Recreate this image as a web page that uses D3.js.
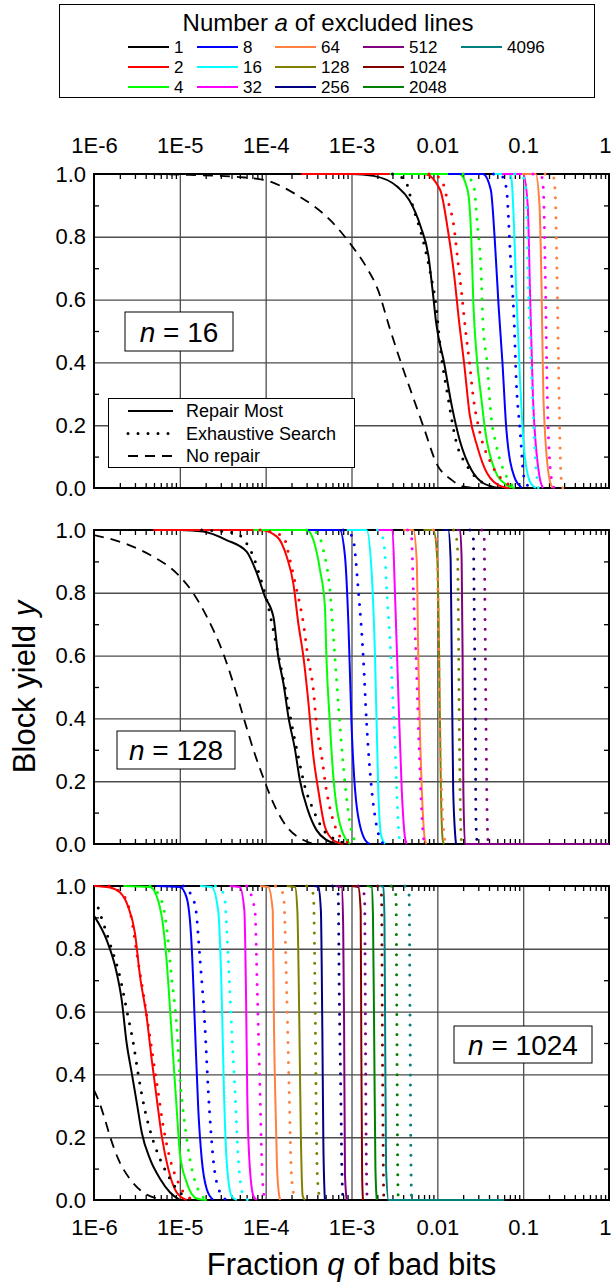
<!DOCTYPE html>
<html>
<head>
<meta charset="utf-8">
<title>Block yield vs fraction of bad bits</title>
<script src="https://d3js.org/d3.v7.min.js"></script>
<style>
body { margin: 0; padding: 0; background: #fff; }
svg text { font-family: "Liberation Sans", Arial, sans-serif; fill: #000; }
</style>
</head>
<body>
<div id="chart"></div>
<script>

// number a of excluded lines, and the colour used for each
var aValues = [1, 2, 4, 8, 16, 32, 64, 128, 256, 512, 1024, 2048, 4096];
var aColors = ["#000000", "#ff0000", "#00ff00", "#0000ff", "#00ffff", "#ff00ff", "#ff8040",
               "#808000", "#000080", "#800080", "#800000", "#008000", "#008080"];

var xTickValues = [1e-6, 1e-5, 1e-4, 1e-3, 1e-2, 1e-1, 1];
var xTickLabels = ["1E-6", "1E-5", "1E-4", "1E-3", "0.01", "0.1", "1"];
var yTickValues = [0, 0.2, 0.4, 0.6, 0.8, 1];
var yTickLabels = ["0.0", "0.2", "0.4", "0.6", "0.8", "1.0"];

// ---- n = 16 : [q, yield] points, one curve per a ----
var n16Most = [
  [[2.6e-4,1],[1e-3,1],[1.8e-3,0.994],[3.4e-3,0.96],[4.7e-3,0.917],[6.4e-3,0.832],[7.9e-3,0.737],[8.8e-3,0.63],[9.7e-3,0.525],[1.2e-2,0.398],[1.48e-2,0.259],[1.82e-2,0.153],[2.5e-2,0.057],[3.4e-2,0.016],[5.2e-2,0]],
  [[2.6e-4,1],[7.1e-3,1],[1.08e-2,0.949],[1.33e-2,0.82],[1.56e-2,0.684],[1.82e-2,0.514],[2.05e-2,0.398],[2.37e-2,0.238],[2.92e-2,0.132],[3.8e-2,0.047],[5.7e-2,0.004],[7e-2,0]],
  [[2.8e-3,1],[1.8e-2,1],[2.25e-2,0.949],[2.49e-2,0.79],[2.62e-2,0.6],[2.92e-2,0.398],[3.24e-2,0.29],[3.6e-2,0.185],[4.67e-2,0.057],[6.4e-2,0.01],[8e-2,0]],
  [[1.33e-2,1],[3.4e-2,1],[4.2e-2,0.949],[4.67e-2,0.79],[5.18e-2,0.577],[5.74e-2,0.398],[6.38e-2,0.185],[7.87e-2,0.036],[9.7e-2,0]],
  [[4.5e-2,1],[7.1e-2,1],[7.4e-2,0.97],[7.8e-2,0.843],[8.3e-2,0.63],[9.2e-2,0.344],[0.102,0.13],[0.12,0.02],[0.14,0]],
  [[5.7e-2,1],[0.1,1],[0.113,0.9],[0.12,0.63],[0.13,0.29],[0.155,0.036],[0.17,0]],
  [[9.7e-2,1],[0.14,1],[0.155,0.9],[0.164,0.63],[0.172,0.29],[0.2,0.036],[0.22,0]]
];
var n16Search = [
  [[3.0e-3,1],[4.2e-3,0.981],[5.2e-3,0.896],[6.8e-3,0.79],[8.3e-3,0.684],[9.7e-3,0.577],[1.08e-2,0.45],[1.33e-2,0.29],[1.64e-2,0.153],[2.25e-2,0.068],[3.4e-2,0.016],[5e-2,0]],
  [[8e-3,1],[1.1e-2,0.985],[1.3e-2,0.922],[1.56e-2,0.832],[1.73e-2,0.726],[1.92e-2,0.62],[2.13e-2,0.503],[2.37e-2,0.398],[2.62e-2,0.29],[3.08e-2,0.185],[4.2e-2,0.08],[6.4e-2,0.016],[8e-2,0]],
  [[2.0e-2,1],[2.62e-2,0.97],[2.92e-2,0.843],[3.24e-2,0.684],[3.4e-2,0.525],[3.8e-2,0.398],[4.2e-2,0.238],[4.9e-2,0.132],[6.4e-2,0.036],[8e-2,0]],
  [[4.5e-2,1],[5.8e-2,0.99],[6.4e-2,0.95],[7.1e-2,0.737],[7.87e-2,0.52],[8.3e-2,0.344],[9.2e-2,0.185],[0.102,0.036],[0.12,0]],
  [[8e-2,1],[0.1,0.99],[0.108,0.95],[0.114,0.68],[0.126,0.344],[0.14,0.08],[0.15,0]],
  [[0.13,1],[0.165,0.99],[0.172,0.95],[0.181,0.68],[0.191,0.29],[0.212,0.036],[0.23,0]],
  [[0.18,1],[0.225,0.99],[0.235,0.95],[0.248,0.68],[0.262,0.29],[0.276,0.036],[0.29,0]]
];
var n16NoRepair = [[3e-6,1],[1e-5,0.998],[5e-5,0.99],[1e-4,0.98],[2.25e-4,0.935],[5.8e-4,0.85],[1.03e-3,0.768],[1.48e-3,0.705],[2.04e-3,0.63],[2.78e-3,0.51],[3.78e-3,0.398],[5.2e-3,0.29],[7.1e-3,0.185],[9.7e-3,0.08],[1.48e-2,0.025],[2.03e-2,0.004],[3e-2,0]];

// ---- n = 128 ----
var n128Most = [
  [[4.9e-6,1],[1.0e-5,1],[1.87e-5,0.995],[3.5e-5,0.968],[6.0e-5,0.931],[7.9e-5,0.862],[9.8e-5,0.788],[1.23e-4,0.724],[1.4e-4,0.597],[1.61e-4,0.512],[1.84e-4,0.405],[2.2e-4,0.3],[2.5e-4,0.204],[3.1e-4,0.108],[3.9e-4,0.045],[5.1e-4,0.013],[6.7e-4,0]],
  [[4.9e-6,1],[8.6e-5,1],[1.35e-4,0.979],[1.76e-4,0.915],[2.1e-4,0.83],[2.4e-4,0.703],[2.75e-4,0.597],[3.1e-4,0.469],[3.6e-4,0.278],[4.1e-4,0.172],[4.9e-4,0.055],[6.1e-4,0.013],[8.0e-4,0]],
  [[7.2e-5,1],[3.0e-4,1],[3.6e-4,0.968],[4.3e-4,0.872],[4.9e-4,0.756],[5.1e-4,0.597],[5.6e-4,0.384],[6.1e-4,0.225],[7.3e-4,0.066],[9.6e-4,0]],
  [[3.0e-4,1],[7.3e-4,1],[8.4e-4,0.915],[9.2e-4,0.703],[1.0e-3,0.384],[1.15e-3,0.12],[1.44e-3,0.013],[1.64e-3,0]],
  [[8.8e-4,1],[1.5e-3,1],[1.72e-3,0.862],[1.88e-3,0.597],[2.05e-3,0.172],[2.2e-3,0.03],[2.45e-3,0]],
  [[2.0e-3,1],[3.0e-3,1],[3.2e-3,0.809],[3.5e-3,0.49],[3.85e-3,0.172],[4.2e-3,0.02],[4.4e-3,0]],
  [[4.0e-3,1],[5.25e-3,1],[5.75e-3,0.904],[6.0e-3,0.597],[6.6e-3,0.172],[7.2e-3,0.01],[7.5e-3,0]],
  [[6.9e-3,1],[9.0e-3,1],[1.0e-2,0.904],[1.05e-2,0.597],[1.1e-2,0.172],[1.16e-2,0.01],[1.2e-2,0]],
  [[1.17e-2,1],[1.34e-2,1],[1.43e-2,0.904],[1.47e-2,0.597],[1.53e-2,0.172],[1.65e-2,0]],
  [[1.67e-2,1],[1.84e-2,1],[1.92e-2,0.904],[1.97e-2,0.597],[2.01e-2,0.172],[2.1e-2,0],[1,0]]
];
var n128Search = [
  [[1.8e-5,1],[4.5e-5,0.99],[6.0e-5,0.957],[7.2e-5,0.915],[8.6e-5,0.851],[1.03e-4,0.777],[1.23e-4,0.68],[1.47e-4,0.576],[1.76e-4,0.469],[2.0e-4,0.384],[2.4e-4,0.278],[2.87e-4,0.182],[3.6e-4,0.108],[4.7e-4,0.045],[6.7e-4,0.013],[8.8e-4,0]],
  [[8.6e-5,1],[1.3e-4,0.99],[1.61e-4,0.979],[1.92e-4,0.904],[2.3e-4,0.809],[2.75e-4,0.703],[3.1e-4,0.597],[3.6e-4,0.49],[3.9e-4,0.384],[4.5e-4,0.278],[5.1e-4,0.172],[6.1e-4,0.076],[8.0e-4,0.013],[1.05e-3,0]],
  [[3.0e-4,1],[4.0e-4,0.99],[4.7e-4,0.936],[5.6e-4,0.809],[6.4e-4,0.597],[7.3e-4,0.384],[8.4e-4,0.193],[9.6e-4,0.066],[1.15e-3,0]],
  [[8.0e-4,1],[9.5e-4,0.99],[1.05e-3,0.968],[1.2e-3,0.809],[1.37e-3,0.597],[1.5e-3,0.384],[1.72e-3,0.172],[1.97e-3,0.055],[2.35e-3,0]],
  [[2.0e-3,1],[2.2e-3,0.99],[2.35e-3,0.968],[2.45e-3,0.926],[2.57e-3,0.809],[2.81e-3,0.65],[3.0e-3,0.49],[3.2e-3,0.331],[3.36e-3,0.172],[3.5e-3,0.066],[3.67e-3,0]],
  [[4.5e-3,1],[5.0e-3,0.979],[5.25e-3,0.809],[5.65e-3,0.597],[6.0e-3,0.384],[6.4e-3,0.172],[6.9e-3,0.02],[7.2e-3,0]],
  [[9.0e-3,1],[9.85e-3,0.968],[1.03e-2,0.703],[1.07e-2,0.384],[1.12e-2,0.172],[1.23e-2,0.01],[1.28e-2,0]],
  [[1.55e-2,1],[1.71e-2,0.958],[1.76e-2,0.703],[1.8e-2,0.384],[1.87e-2,0.066],[1.92e-2,0]],
  [[2.4e-2,1],[2.62e-2,0.979],[2.7e-2,0.703],[2.77e-2,0.384],[2.82e-2,0.066],[2.92e-2,0]],
  [[3.3e-2,1],[3.5e-2,0.99],[3.6e-2,0.703],[3.69e-2,0.384],[3.82e-2,0.066],[3.93e-2,0]]
];
var n128NoRepair = [[1.0e-6,0.984],[2.4e-6,0.955],[4.9e-6,0.915],[9.2e-6,0.862],[1.44e-5,0.798],[2.06e-5,0.724],[3.2e-5,0.607],[4.2e-5,0.512],[5.5e-5,0.405],[7.2e-5,0.3],[9.6e-5,0.204],[1.23e-4,0.13],[1.76e-4,0.055],[2.75e-4,0.013],[3.6e-4,0]];

// ---- n = 1024 ----
var n1024Most = [
  [[1.0e-6,0.905],[1.4e-6,0.829],[1.84e-6,0.723],[2.1e-6,0.638],[2.4e-6,0.5],[2.75e-6,0.405],[3.15e-6,0.31],[3.6e-6,0.215],[4.5e-6,0.13],[5.9e-6,0.067],[7.7e-6,0.024],[1.0e-5,0]],
  [[1.0e-6,1],[1.53e-6,0.995],[2.0e-6,0.98],[2.5e-6,0.934],[3.0e-6,0.85],[3.44e-6,0.712],[4.1e-6,0.585],[4.7e-6,0.448],[5.4e-6,0.32],[6.15e-6,0.204],[7.35e-6,0.098],[9.2e-6,0.024],[1.2e-5,0]],
  [[2.2e-6,1],[4.5e-6,0.997],[5.6e-6,0.953],[6.4e-6,0.871],[7.0e-6,0.765],[7.7e-6,0.606],[8.4e-6,0.448],[9.2e-6,0.289],[1.0e-5,0.151],[1.2e-5,0.056],[1.57e-5,0.005],[2.06e-5,0]],
  [[5.4e-6,1],[1.0e-5,0.997],[1.2e-5,0.963],[1.37e-5,0.815],[1.5e-5,0.553],[1.64e-5,0.289],[1.8e-5,0.13],[2.06e-5,0.034],[2.45e-5,0]],
  [[1.72e-5,1],[2.35e-5,0.997],[2.8e-5,0.921],[3.07e-5,0.659],[3.27e-5,0.342],[3.5e-5,0.13],[4.0e-5,0.013],[4.6e-5,0]],
  [[3.8e-5,1],[5.0e-5,0.997],[5.65e-5,0.921],[5.9e-5,0.659],[6.1e-5,0.342],[6.45e-5,0.13],[7.2e-5,0.013],[7.9e-5,0]],
  [[8.6e-5,1],[1.07e-4,0.997],[1.21e-4,0.921],[1.25e-4,0.553],[1.32e-4,0.236],[1.37e-4,0.077],[1.47e-4,0]],
  [[1.76e-4,1],[2.2e-4,0.997],[2.34e-4,0.921],[2.47e-4,0.553],[2.56e-4,0.236],[2.7e-4,0.013],[2.87e-4,0]],
  [[3.6e-4,1],[4.1e-4,0.997],[4.4e-4,0.921],[4.57e-4,0.553],[4.7e-4,0.183],[4.9e-4,0]],
  [[6.5e-4,1],[7.7e-4,0.997],[8.0e-4,0.871],[8.2e-4,0.553],[8.4e-4,0.077],[8.8e-4,0]],
  [[1.0e-3,1],[1.2e-3,0.997],[1.28e-3,0.92],[1.3e-3,0.5],[1.33e-3,0.08],[1.36e-3,0]],
  [[1.5e-3,1],[1.72e-3,0.997],[1.78e-3,0.9],[1.84e-3,0.5],[1.9e-3,0.1],[1.97e-3,0]],
  [[2.1e-3,1],[2.35e-3,0.997],[2.42e-3,0.9],[2.47e-3,0.5],[2.53e-3,0.1],[2.7e-3,0],[6e-2,0]]
];
var n1024Search = [
  [[1.12e-6,0.93],[1.53e-6,0.818],[2.0e-6,0.712],[2.4e-6,0.606],[2.87e-6,0.5],[3.3e-6,0.395],[3.9e-6,0.289],[4.7e-6,0.204],[5.9e-6,0.13],[7.7e-6,0.067],[1.0e-5,0.024],[1.44e-5,0]],
  [[1.5e-6,1],[2.3e-6,0.963],[2.75e-6,0.892],[3.15e-6,0.786],[3.75e-6,0.659],[4.3e-6,0.553],[4.9e-6,0.448],[5.6e-6,0.342],[6.4e-6,0.236],[7.7e-6,0.13],[9.6e-6,0.056],[1.2e-5,0.013],[1.57e-5,0]],
  [[4.5e-6,1],[6.15e-6,0.953],[7.0e-6,0.871],[8.0e-6,0.712],[9.2e-6,0.553],[1.0e-5,0.395],[1.15e-5,0.236],[1.31e-5,0.13],[1.57e-5,0.045],[2.06e-5,0]],
  [[1.1e-5,1],[1.5e-5,0.942],[1.72e-5,0.765],[1.96e-5,0.553],[2.15e-5,0.342],[2.45e-5,0.13],[2.94e-5,0.024],[3.5e-5,0]],
  [[2.6e-5,1],[3.27e-5,0.974],[3.67e-5,0.765],[4.0e-5,0.553],[4.4e-5,0.342],[4.8e-5,0.13],[5.5e-5,0.013],[6.3e-5,0]],
  [[6.0e-5,1],[7.5e-5,0.921],[8.0e-5,0.659],[8.6e-5,0.342],[9.0e-5,0.13],[9.6e-5,0.013],[1.03e-4,0]],
  [[1.3e-4,1],[1.61e-4,0.974],[1.76e-4,0.659],[1.88e-4,0.342],[2.0e-4,0.077],[2.2e-4,0]],
  [[3.0e-4,1],[3.6e-4,0.974],[3.76e-4,0.659],[3.86e-4,0.342],[4.0e-4,0.077],[4.3e-4,0]],
  [[6.0e-4,1],[7.0e-4,0.974],[7.2e-4,0.659],[7.5e-4,0.342],[7.75e-4,0.077],[8.0e-4,0]],
  [[1.2e-3,1],[1.42e-3,0.97],[1.45e-3,0.6],[1.48e-3,0.2],[1.52e-3,0.01],[1.55e-3,0]],
  [[2.0e-3,1],[2.24e-3,0.97],[2.28e-3,0.6],[2.33e-3,0.2],[2.38e-3,0.01],[2.42e-3,0]],
  [[2.9e-3,1],[3.3e-3,0.97],[3.37e-3,0.6],[3.43e-3,0.2],[3.5e-3,0.01],[3.55e-3,0]],
  [[4.2e-3,1],[4.7e-3,0.97],[4.8e-3,0.6],[4.9e-3,0.2],[5.0e-3,0.01],[5.1e-3,0]]
];
var n1024NoRepair = [[1.0e-6,0.35],[1.12e-6,0.32],[1.34e-6,0.257],[1.53e-6,0.204],[1.92e-6,0.13],[2.62e-6,0.067],[3.75e-6,0.024],[5.4e-6,0.005],[7.0e-6,0]];

var panelNames = ["16", "128", "1024"];

// ---------------- layout ----------------
var W = 611, H = 1287;
var plotLeft = 94, plotRight = 609, panelH = 314;
var panelTops = [174, 530, 886];
var nLabelBoxes = [[125, 312, 108, 39], [117, 731, 118, 38], [454, 1026, 138, 37]];
var tickFont = "22px";

var panels = [
  {name: panelNames[0], most: n16Most, search: n16Search, none: n16NoRepair},
  {name: panelNames[1], most: n128Most, search: n128Search, none: n128NoRepair},
  {name: panelNames[2], most: n1024Most, search: n1024Search, none: n1024NoRepair}
];

var svg = d3.select("#chart").append("svg")
    .attr("width", W)
    .attr("height", H)
    .style("display", "block");

var x = d3.scaleLog().domain([1e-6, 1]).range([plotLeft, plotRight]);

var minorX = [];
for (var e = -6; e < 0; e++) {
  for (var m = 2; m <= 9; m++) minorX.push(m * Math.pow(10, e));
}
var minorY = [0.1, 0.3, 0.5, 0.7, 0.9];

var gridColor = "#4d4d4d";

panels.forEach(function(p, k) {
  var top = panelTops[k], bottom = top + panelH;
  var y = d3.scaleLinear().domain([0, 1]).range([bottom, top]);
  var g = svg.append("g");

  // grid lines
  g.append("g")
    .attr("transform", "translate(0," + bottom + ")")
    .call(d3.axisBottom(x).tickValues(xTickValues.slice(1, -1)).tickSize(-panelH).tickFormat(""))
    .call(function(s) { s.select(".domain").remove(); })
    .selectAll("line").attr("stroke", gridColor).attr("stroke-width", 1.3);
  g.append("g")
    .attr("transform", "translate(" + plotLeft + ",0)")
    .call(d3.axisLeft(y).tickValues(yTickValues.slice(1, -1)).tickSize(-(plotRight - plotLeft)).tickFormat(""))
    .call(function(s) { s.select(".domain").remove(); })
    .selectAll("line").attr("stroke", gridColor).attr("stroke-width", 1.4);

  // minor ticks on all four sides, pointing in
  g.append("g")
    .attr("transform", "translate(0," + bottom + ")")
    .call(d3.axisBottom(x).tickValues(minorX).tickSize(-5).tickFormat(""))
    .call(function(s) { s.select(".domain").remove(); })
    .selectAll("line").attr("stroke", "#000").attr("stroke-width", 1.3);
  g.append("g")
    .attr("transform", "translate(0," + top + ")")
    .call(d3.axisTop(x).tickValues(minorX).tickSize(-5).tickFormat(""))
    .call(function(s) { s.select(".domain").remove(); })
    .selectAll("line").attr("stroke", "#000").attr("stroke-width", 1.3);
  g.append("g")
    .attr("transform", "translate(" + plotLeft + ",0)")
    .call(d3.axisLeft(y).tickValues(minorY).tickSize(-5).tickFormat(""))
    .call(function(s) { s.select(".domain").remove(); })
    .selectAll("line").attr("stroke", "#000").attr("stroke-width", 1.3);
  g.append("g")
    .attr("transform", "translate(" + plotRight + ",0)")
    .call(d3.axisRight(y).tickValues(minorY).tickSize(-5).tickFormat(""))
    .call(function(s) { s.select(".domain").remove(); })
    .selectAll("line").attr("stroke", "#000").attr("stroke-width", 1.3);

  // frame
  g.append("rect")
    .attr("x", plotLeft).attr("y", top)
    .attr("width", plotRight - plotLeft).attr("height", panelH)
    .attr("fill", "none").attr("stroke", "#000").attr("stroke-width", 2);

  // y tick labels
  g.append("g")
    .attr("transform", "translate(" + (plotLeft - 8) + ",0)")
    .call(d3.axisLeft(y).tickValues(yTickValues).tickSize(0).tickPadding(0)
      .tickFormat(function(d, i) { return yTickLabels[i]; }))
    .call(function(s) { s.select(".domain").remove(); })
    .selectAll("text")
      .style("font-family", "'Liberation Sans', Arial, sans-serif")
      .style("font-size", tickFont)
      .attr("fill", "#000");

  // curves
  var clipId = "clip" + k;
  svg.append("clipPath").attr("id", clipId)
    .append("rect")
    .attr("x", plotLeft).attr("y", top - 3)
    .attr("width", plotRight - plotLeft).attr("height", panelH + 6);

  var line = d3.line()
    .x(function(d) { return x(d[0]); })
    .y(function(d) { return y(d[1]); })
    .curve(d3.curveMonotoneX);

  var cg = g.append("g").attr("clip-path", "url(#" + clipId + ")");

  cg.append("path")
    .attr("d", line(p.none))
    .attr("fill", "none").attr("stroke", "#000")
    .attr("stroke-width", 1.8).attr("stroke-dasharray", "10,7");

  p.most.forEach(function(pts, i) {
    cg.append("path")
      .attr("d", line(pts))
      .attr("fill", "none").attr("stroke", aColors[i])
      .attr("stroke-width", 2).attr("stroke-linejoin", "round");
  });
  p.search.forEach(function(pts, i) {
    cg.append("path")
      .attr("d", line(pts))
      .attr("fill", "none").attr("stroke", aColors[i])
      .attr("stroke-width", 3).attr("stroke-linecap", "round")
      .attr("stroke-dasharray", "0,10");
  });

  // "n = ..." label
  var b = nLabelBoxes[k];
  g.append("rect")
    .attr("x", b[0]).attr("y", b[1]).attr("width", b[2]).attr("height", b[3])
    .attr("fill", "#fff").attr("stroke", "#000").attr("stroke-width", 1);
  var t = g.append("text")
    .attr("x", b[0] + b[2] / 2).attr("y", b[1] + b[3] / 2 + 10)
    .attr("text-anchor", "middle")
    .style("font-size", "28px");
  t.append("tspan").style("font-style", "italic").text("n");
  t.append("tspan").text(" = " + p.name);
});

// x tick labels on top of first panel and bottom of last panel
function xLabels(sel) {
  sel.call(function(s) { s.select(".domain").remove(); })
    .selectAll("text")
      .style("font-family", "'Liberation Sans', Arial, sans-serif")
      .style("font-size", tickFont).attr("fill", "#000")
      .attr("text-anchor", function(d, i) { return i === xTickValues.length - 1 ? "end" : "middle"; })
      .attr("dx", function(d, i) { return i === xTickValues.length - 1 ? 2 : 0; });
}
svg.append("g")
  .attr("transform", "translate(0," + (panelTops[0] - 21) + ")")
  .call(d3.axisTop(x).tickValues(xTickValues).tickSize(0).tickPadding(0)
    .tickFormat(function(d, i) { return xTickLabels[i]; }))
  .call(xLabels);

svg.append("g")
  .attr("transform", "translate(0," + (panelTops[2] + panelH + 19) + ")")
  .call(d3.axisBottom(x).tickValues(xTickValues).tickSize(0).tickPadding(0)
    .tickFormat(function(d, i) { return xTickLabels[i]; }))
  .call(xLabels);

// axis titles
var xt = svg.append("text")
  .attr("x", (plotLeft + plotRight) / 2).attr("y", 1275)
  .attr("text-anchor", "middle").style("font-size", "31px");
xt.append("tspan").text("Fraction ");
xt.append("tspan").style("font-style", "italic").text("q");
xt.append("tspan").text(" of bad bits");

var yt = svg.append("text")
  .attr("transform", "translate(35," + (panelTops[1] + panelH / 2) + ") rotate(-90)")
  .attr("text-anchor", "middle").style("font-size", "31px");
yt.append("tspan").text("Block yield ");
yt.append("tspan").style("font-style", "italic").text("y");

// ---------------- legend: number a ----------------
var leg = svg.append("g");
leg.append("rect")
  .attr("x", 59.5).attr("y", 4.5).attr("width", 535).attr("height", 93)
  .attr("fill", "#fff").attr("stroke", "#000").attr("stroke-width", 1);
var lt = leg.append("text")
  .attr("x", 328).attr("y", 31)
  .attr("text-anchor", "middle").style("font-size", "24px");
lt.append("tspan").text("Number ");
lt.append("tspan").style("font-style", "italic").text("a");
lt.append("tspan").text(" of excluded lines");

var legColX = [128, 197, 275, 363, 461];
var legRowY = [47, 67, 87];
aValues.forEach(function(a, i) {
  var cx = legColX[Math.floor(i / 3)], cy = legRowY[i % 3];
  leg.append("line")
    .attr("x1", cx).attr("x2", cx + 41).attr("y1", cy).attr("y2", cy)
    .attr("stroke", aColors[i]).attr("stroke-width", 2);
  leg.append("text")
    .attr("x", cx + 46).attr("y", cy + 6)
    .style("font-size", "17px").text(a);
});

// ---------------- legend: repair method ----------------
var methods = [
  {label: "Repair Most", dash: null, width: 2},
  {label: "Exhaustive Search", dash: "0,10", width: 3},
  {label: "No repair", dash: "10,7", width: 1.8}
];
var rl = svg.append("g");
rl.append("rect")
  .attr("x", 108.5).attr("y", 398.5).attr("width", 246).attr("height", 69)
  .attr("fill", "#fff").attr("stroke", "#000").attr("stroke-width", 1);
methods.forEach(function(m, i) {
  var cy = 411 + i * 22.5;
  var l = rl.append("line")
    .attr("x1", 128).attr("x2", 173).attr("y1", cy).attr("y2", cy)
    .attr("stroke", "#000").attr("stroke-width", m.width);
  if (m.dash) l.attr("stroke-dasharray", m.dash).attr("stroke-linecap", m.dash === "0,10" ? "round" : "butt");
  rl.append("text")
    .attr("x", 186).attr("y", cy + 6)
    .style("font-size", "18px").text(m.label);
});

</script>
</body>
</html>
